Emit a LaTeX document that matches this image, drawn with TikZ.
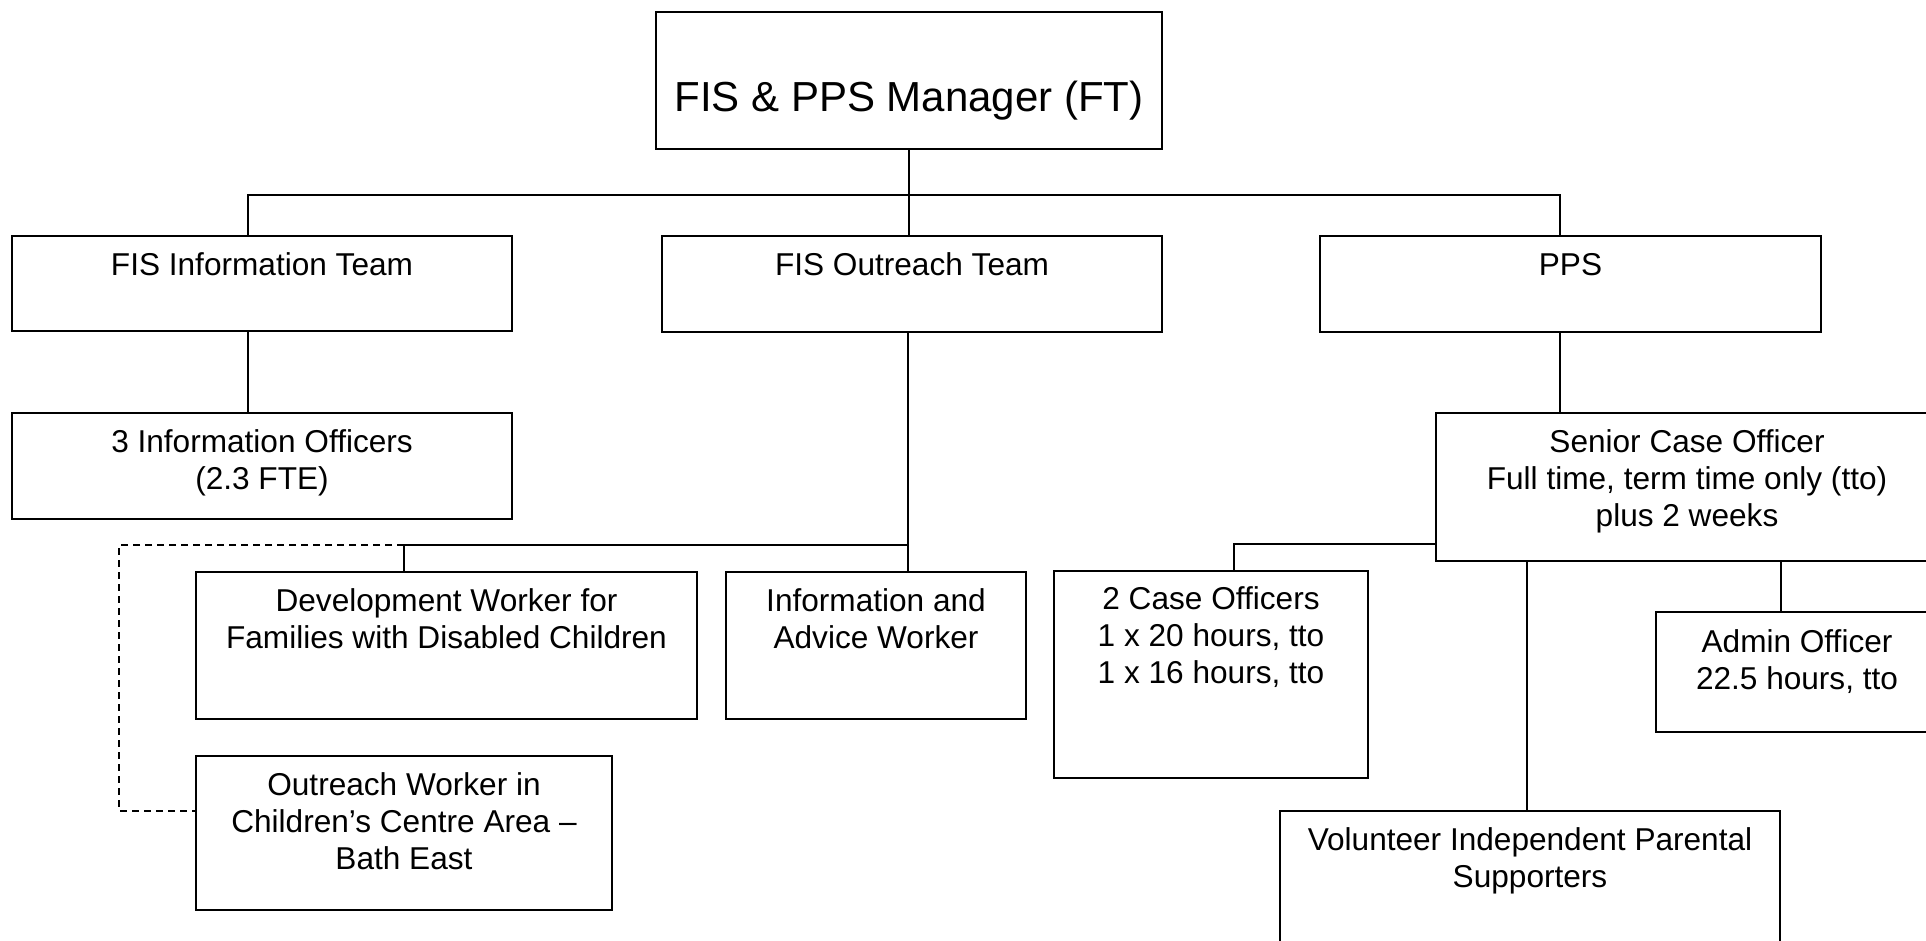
\documentclass[tikz,border=0pt]{standalone}
\usepackage{fontspec}
\setmainfont{Liberation Sans}
\newcommand{\bt}[4]{\parbox[c][#2pt][t]{#1pt}{\centering\fontsize{31.6}{37}\selectfont\vspace*{#3pt}\strut #4\par}}
\tikzset{
  orgbox/.style={draw, line width=1.5pt, inner sep=0pt, outer sep=0pt, anchor=north west, fill=white},
  link/.style={line width=1.7pt},
  dashlink/.style={line width=1.7pt, dash pattern=on 7pt off 5pt}
}
\begin{document}
\begin{tikzpicture}[x=1pt, y=-1pt]
\useasboundingbox (0,0) rectangle (1926,941);
\fill[white] (0,0) rectangle (1926,941);
\clip (0,0) rectangle (1926,941);

\node[orgbox] (mgr) at (656,12) {\parbox[c][137pt][t]{506pt}{\centering\fontsize{42}{48}\selectfont\vspace*{66.4pt}\strut FIS \& PPS Manager (FT)\par}};
\node[orgbox] (info) at (12,236) {\bt{500}{95}{14}{FIS Information Team}};
\node[orgbox] (out) at (662,236) {\bt{500}{96}{14}{FIS Outreach Team}};
\node[orgbox] (pps) at (1320,236) {\bt{501}{96}{14}{PPS}};
\node[orgbox] (off) at (12,413) {\bt{500}{106}{14}{3 Information Officers\\(2.3 FTE)}};
\node[orgbox] (sen) at (1436,413) {\bt{502}{148}{14}{Senior Case Officer\\Full time, term time only (tto)\\plus 2 weeks}};
\node[orgbox] (dev) at (196,572) {\bt{501}{147}{14}{Development Worker for\\Families with Disabled Children}};
\node[orgbox] (ia) at (726,572) {\bt{300}{147}{14}{Information and\\Advice Worker}};
\node[orgbox] (case) at (1054,571) {\bt{314}{207}{13}{2 Case Officers\\1 x 20 hours, tto\\1 x 16 hours, tto}};
\node[orgbox] (adm) at (1656,612) {\bt{282}{120}{15}{Admin Officer\\22.5 hours, tto}};
\node[orgbox] (ow) at (196,756) {\bt{416}{154}{14}{Outreach Worker in\\Children’s Centre Area –\\Bath East}};
\node[orgbox] (vol) at (1280,811) {\bt{500}{160}{14}{Volunteer Independent Parental\\Supporters}};

% top level
\coordinate (bL) at (248,195);
\coordinate (bR) at (1560,195);
\draw[link] (mgr.south) -- (mgr.south |- out.north);
\draw[link] (bL |- info.north) -- (bL) -- (bR) -- (bR |- pps.north);
\draw[link] (bL |- info.south) -- (bL |- off.north);

% outreach team
\coordinate (ox) at (908,545);
\coordinate (dj) at (404,545);
\coordinate (dl) at (119,545);
\coordinate (dl2) at (119,811);
\draw[link] (ox |- out.south) -- (ox |- ia.north);
\draw[link] (ox) -- (dj) -- (dj |- dev.north);
\draw[dashlink] (dj) -- (dl) -- (dl2) -- (dl2 -| ow.west);

% PPS
\coordinate (cj) at (1234,544);
\coordinate (vx) at (1527,561);
\coordinate (ax) at (1781,561);
\draw[link] (bR |- pps.south) -- (bR |- sen.north);
\draw[link] (cj -| sen.west) -- (cj) -- (cj |- case.north);
\draw[link] (vx |- sen.south) -- (vx |- vol.north);
\draw[link] (ax |- sen.south) -- (ax |- adm.north);
\end{tikzpicture}
\end{document}
